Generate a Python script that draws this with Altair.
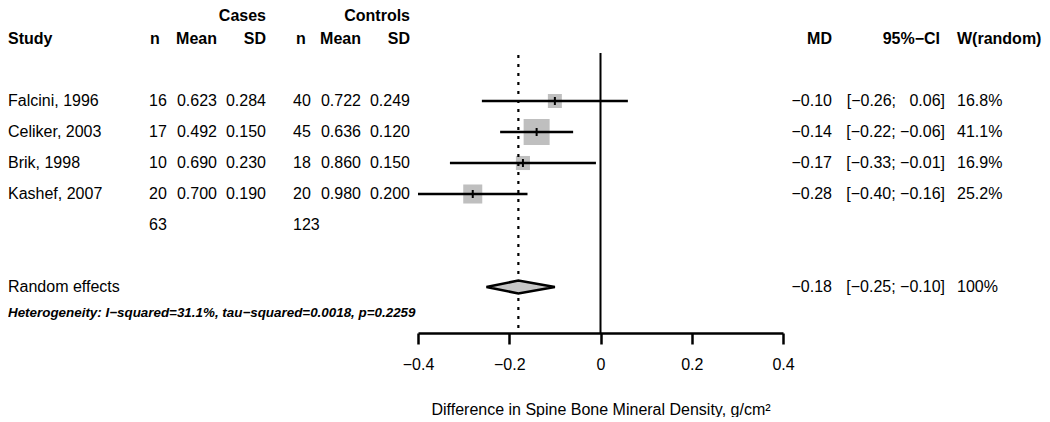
import altair as alt
import pandas as pd

# ---------------- data ----------------
studies = ["Falcini, 1996", "Celiker, 2003", "Brik, 1998", "Kashef, 2007"]
n_cases = [16, 17, 10, 20]
mean_cases = [0.623, 0.492, 0.690, 0.700]
sd_cases = [0.284, 0.150, 0.230, 0.190]
n_ctrl = [40, 45, 18, 20]
mean_ctrl = [0.722, 0.636, 0.860, 0.980]
sd_ctrl = [0.249, 0.120, 0.150, 0.200]
md = [-0.10, -0.14, -0.17, -0.28]
ci_lo = [-0.26, -0.22, -0.33, -0.40]
ci_hi = [0.06, -0.06, -0.01, -0.16]
weights = [16.8, 41.1, 16.9, 25.2]
total_cases = [63]
total_ctrl = [123]
re_label = ["Random effects"]
re_md = [-0.18]
re_lo = [-0.25]
re_hi = [-0.10]
re_weight = ["100%"]
het_text = ["Heterogeneity: I\u2212squared=31.1%, tau\u2212squared=0.0018, p=0.2259"]
axis_ticks = [-0.4, -0.2, 0, 0.2, 0.4]
axis_title = "Difference in Spine Bone Mineral Density, g/cm\u00b2"

# ---------------- helpers ----------------
MINUS = "\u2212"
FONT = "Liberation Sans"


def f(v, d):
    return f"{v:.{d}f}".replace("-", MINUS)


def md_str(v):
    return f(v, 2)


def ci_str(lo, hi):
    lo_s = f(lo, 2) if lo < 0 else "\u2007" + f(lo, 2)
    hi_s = f(hi, 2) if hi < 0 else "\u2007" + f(hi, 2)
    return f"[{lo_s}; {hi_s}]"


ROW_GRP, ROW_HDR, ROW_TOT, ROW_RE, ROW_HET = -3, -2, 4, 6, 6.85
H = 325
LEFT_W, MID_W, RIGHT_W = 410, 365, 259
yscale = alt.Scale(domain=[-3, 7.484], reverse=True, nice=False, zero=False)


def Y(field="r"):
    return alt.Y(f"{field}:Q", scale=yscale, axis=None)


def text_layer(df, field, x, align="left", bold=False, size=16, italic=False, baseline="middle"):
    kw = dict(align=align, baseline=baseline, font=FONT, fontSize=size, color="black",
              fontWeight="bold" if bold else "normal")
    if italic:
        kw["fontStyle"] = "italic"
    return alt.Chart(df).mark_text(**kw).encode(
        x=alt.value(x), y=Y(), text=alt.Text(f"{field}:N")
    )


rows = list(range(len(studies)))
study_df = pd.DataFrame({
    "r": rows,
    "study": studies,
    "nc": [str(v) for v in n_cases],
    "mc": [f(v, 3) for v in mean_cases],
    "sc": [f(v, 3) for v in sd_cases],
    "nt": [str(v) for v in n_ctrl],
    "mt": [f(v, 3) for v in mean_ctrl],
    "st": [f(v, 3) for v in sd_ctrl],
    "md": md, "lo": ci_lo, "hi": ci_hi, "w": weights,
    "mds": [md_str(v) for v in md],
    "cis": [ci_str(a, b) for a, b in zip(ci_lo, ci_hi)],
    "ws": [f"{v:.1f}%" for v in weights],
})

tot_df = pd.DataFrame({"r": [ROW_TOT], "nc": [str(total_cases[0])], "nt": [str(total_ctrl[0])]})
re_df = pd.DataFrame({"r": [ROW_RE], "label": re_label, "md": re_md, "lo": re_lo, "hi": re_hi,
                      "mds": [md_str(re_md[0])], "cis": [ci_str(re_lo[0], re_hi[0])], "ws": re_weight})
het_df = pd.DataFrame({"r": [ROW_HET], "t": het_text})
grp_df = pd.DataFrame({"r": [ROW_GRP], "cases": ["Cases"], "ctrl": ["Controls"]})
hdr_df = pd.DataFrame({"r": [ROW_HDR], "study": ["Study"], "n": ["n"], "mean": ["Mean"], "sd": ["SD"],
                       "md": ["MD"], "ci": ["95%\u2212CI"], "w": ["W(random)"]})

# ---------------- left table panel ----------------
left = alt.layer(
    text_layer(grp_df, "cases", 258, "right", bold=True, baseline="top"),
    text_layer(grp_df, "ctrl", 402, "right", bold=True, baseline="top"),
    text_layer(hdr_df, "study", 0, "left", bold=True),
    text_layer(hdr_df, "n", 147, "center", bold=True),
    text_layer(hdr_df, "mean", 209, "right", bold=True),
    text_layer(hdr_df, "sd", 258, "right", bold=True),
    text_layer(hdr_df, "n", 293, "center", bold=True),
    text_layer(hdr_df, "mean", 353, "right", bold=True),
    text_layer(hdr_df, "sd", 402, "right", bold=True),
    text_layer(study_df, "study", 0, "left"),
    text_layer(study_df, "nc", 141, "left"),
    text_layer(study_df, "mc", 209, "right"),
    text_layer(study_df, "sc", 258, "right"),
    text_layer(study_df, "nt", 285, "left"),
    text_layer(study_df, "mt", 353, "right"),
    text_layer(study_df, "st", 402, "right"),
    text_layer(tot_df, "nc", 141, "left"),
    text_layer(tot_df, "nt", 285, "left"),
    text_layer(re_df, "label", 0, "left"),
    text_layer(het_df, "t", 0, "left", bold=True, size=13.4, italic=True),
).properties(width=LEFT_W, height=H)

# ---------------- middle forest panel ----------------
xscale = alt.Scale(domain=[-0.4, 0.4], nice=False, zero=False)
xaxis = alt.Axis(values=axis_ticks, format=".1~f", grid=False, labelFlush=False,
                 domainColor="black", domainWidth=2.7, tickColor="black", tickWidth=2.5, tickSize=11,
                 labelFont=FONT, labelFontSize=16, labelColor="black", labelPadding=12,
                 title=axis_title, titleFont=FONT, titleFontSize=16, titleFontWeight="normal",
                 titleColor="black", titlePadding=29)


def X(field):
    return alt.X(f"{field}:Q", scale=xscale, axis=xaxis)


zero_line = alt.Chart(re_df).mark_rule(color="black", strokeWidth=2).encode(
    x=alt.X("z:Q", scale=xscale, axis=xaxis), y=alt.value(45), y2=alt.value(H)
).transform_calculate(z="0")

re_line = alt.Chart(re_df).mark_rule(color="black", strokeWidth=2.2, strokeDash=[3, 6]).encode(
    x=X("md"), y=alt.value(47), y2=alt.value(H)
)

squares = alt.Chart(study_df).mark_square(color="#bfbfbf", opacity=1, strokeWidth=0).encode(
    x=X("md"), y=Y(),
    size=alt.Size("w:Q", scale=alt.Scale(domain=[min(weights), max(weights)], range=[196, 676]), legend=None),
)
ci_rules = alt.Chart(study_df).mark_rule(color="black", strokeWidth=2.7).encode(
    x=X("lo"), x2="hi", y=Y()
)
est_ticks = alt.Chart(study_df).mark_tick(orient="vertical", color="black", thickness=2, size=8, opacity=1).encode(
    x=X("md"), y=Y()
)

HALF = 0.21
diamond_df = pd.DataFrame({
    "x": [re_lo[0], re_md[0], re_hi[0]],
    "y": [ROW_RE, ROW_RE - HALF, ROW_RE],
    "y2": [ROW_RE, ROW_RE + HALF, ROW_RE],
})
diamond = alt.Chart(diamond_df).mark_area(fill="#c6c6c6", stroke="black", strokeWidth=2.5,
                                          orient="vertical", opacity=1).encode(
    x=X("x"), y=alt.Y("y:Q", scale=yscale, axis=None), y2="y2:Q"
)

mid = alt.layer(zero_line, squares, re_line, ci_rules, est_ticks, diamond).properties(width=MID_W, height=H)

# ---------------- right table panel ----------------
right = alt.layer(
    text_layer(hdr_df, "md", 49, "right", bold=True),
    text_layer(hdr_df, "ci", 157, "right", bold=True),
    text_layer(hdr_df, "w", 174, "left", bold=True),
    text_layer(study_df, "mds", 49, "right"),
    text_layer(study_df, "cis", 162, "right"),
    text_layer(study_df, "ws", 174, "left"),
    text_layer(re_df, "mds", 49, "right"),
    text_layer(re_df, "cis", 162, "right"),
    text_layer(re_df, "ws", 174, "left"),
).properties(width=RIGHT_W, height=H)

chart = alt.hconcat(left, mid, right, spacing=0, bounds="flush").properties(
    padding={"left": 0, "top": 0, "right": 0, "bottom": 0}
).configure_view(stroke=None)

chart.save("out.html", embed_options={"renderer": "svg", "actions": False})
